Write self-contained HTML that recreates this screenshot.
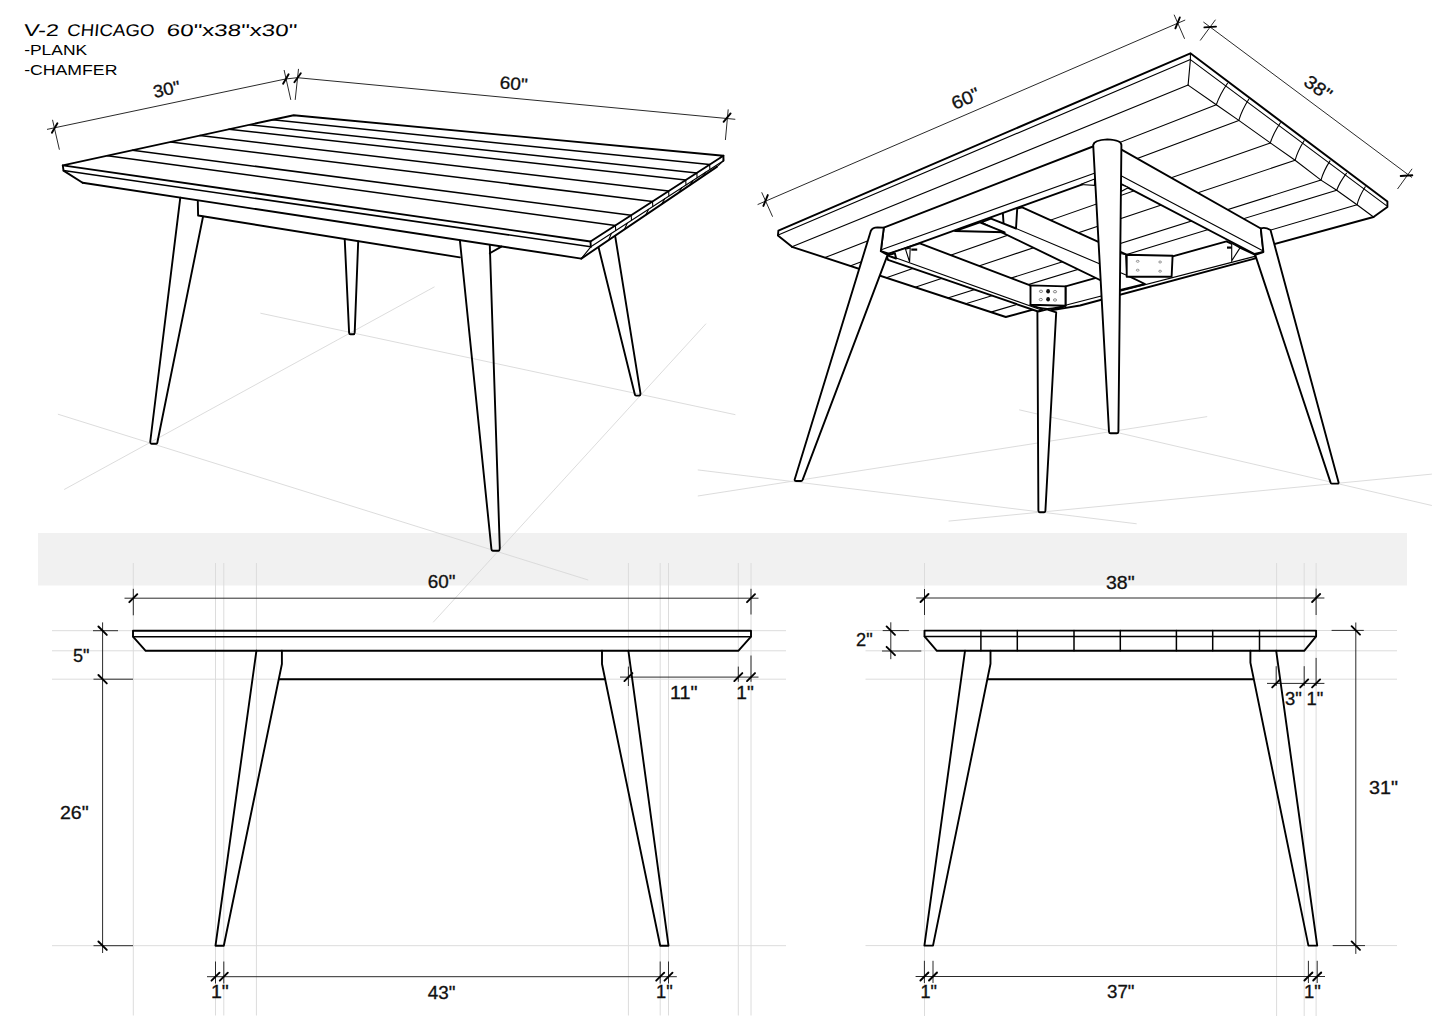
<!DOCTYPE html>
<html><head><meta charset="utf-8"><title>V-2 Chicago table</title>
<style>
html,body{margin:0;padding:0;background:#fff;}
body{width:1445px;height:1022px;overflow:hidden;}
svg{display:block;}
.k{stroke:#000;stroke-width:1.9;fill:none;stroke-linejoin:round;stroke-linecap:round;}
.k2{stroke:#000;stroke-width:1.5;fill:none;stroke-linecap:round;}
.k1{stroke:#000;stroke-width:1.1;fill:none;stroke-linecap:round;}
.dl{stroke:#2a2a2a;stroke-width:1;fill:none;}
.tk{stroke:#000;stroke-width:1.9;stroke-linecap:round;}
.cl{stroke:#dcdcdc;stroke-width:1;fill:none;}
.gl{stroke:#d8d8d8;stroke-width:0.9;fill:none;}
.bolt{stroke:#000;stroke-width:2.2;}
text{font-family:"Liberation Sans",sans-serif;fill:#111;stroke:#111;stroke-width:0.3;}
.ti{font-family:"Liberation Sans",sans-serif;fill:#000;stroke:none;}
</style></head>
<body>
<svg width="1445" height="1022" viewBox="0 0 1445 1022">
<rect width="1445" height="1022" fill="#fff"/>
<rect x="38" y="533" width="1369" height="52.5" fill="#f1f1f1"/>
<line class="gl" x1="57.9" y1="414.2" x2="588.2" y2="580"/>
<line class="gl" x1="64.2" y1="489.5" x2="434.5" y2="286.8"/>
<line class="gl" x1="260.4" y1="313.2" x2="735.4" y2="414.7"/>
<line class="gl" x1="433.2" y1="622.3" x2="706" y2="323.7"/>
<line class="gl" x1="697.8" y1="469.9" x2="1136.7" y2="523.8"/>
<line class="gl" x1="697.8" y1="496" x2="1207.2" y2="416.6"/>
<line class="gl" x1="1019.2" y1="409.8" x2="1431.9" y2="505.5"/>
<line class="gl" x1="948.6" y1="521.1" x2="1431.9" y2="474.1"/>
<line class="cl" x1="133.3" y1="563" x2="133.3" y2="1015.5"/>
<line class="cl" x1="215.5" y1="563" x2="215.5" y2="1015.5"/>
<line class="cl" x1="223.8" y1="563" x2="223.8" y2="1015.5"/>
<line class="cl" x1="256.4" y1="563" x2="256.4" y2="1015.5"/>
<line class="cl" x1="628.4" y1="563" x2="628.4" y2="1015.5"/>
<line class="cl" x1="660.2" y1="563" x2="660.2" y2="1015.5"/>
<line class="cl" x1="668.5" y1="563" x2="668.5" y2="1015.5"/>
<line class="cl" x1="738.3" y1="563" x2="738.3" y2="1015.5"/>
<line class="cl" x1="751" y1="563" x2="751" y2="1015.5"/>
<line class="cl" x1="52" y1="630.7" x2="786" y2="630.7"/>
<line class="cl" x1="52" y1="650.8" x2="786" y2="650.8"/>
<line class="cl" x1="52" y1="679.2" x2="786" y2="679.2"/>
<line class="cl" x1="52" y1="945.7" x2="786" y2="945.7"/>
<line class="cl" x1="924.5" y1="563" x2="924.5" y2="1016"/>
<line class="cl" x1="1276.6" y1="563" x2="1276.6" y2="1016"/>
<line class="cl" x1="1304.2" y1="563" x2="1304.2" y2="1016"/>
<line class="cl" x1="1316.1" y1="563" x2="1316.1" y2="1016"/>
<line class="cl" x1="865.5" y1="630.5" x2="1397" y2="630.5"/>
<line class="cl" x1="865.5" y1="650.8" x2="1397" y2="650.8"/>
<line class="cl" x1="865.5" y1="679.2" x2="1397" y2="679.2"/>
<line class="cl" x1="865.5" y1="945.6" x2="1397" y2="945.6"/>
<line class="dl" x1="124.5" y1="598.2" x2="758.5" y2="598.2"/>
<line class="dl" x1="133.3" y1="588.8" x2="133.3" y2="615.3"/>
<line class="dl" x1="751" y1="588.8" x2="751" y2="614.5"/>
<line class="tk" x1="129.3" y1="602.2" x2="137.3" y2="594.2"/>
<line class="tk" x1="747" y1="602.2" x2="755" y2="594.2"/>
<line class="dl" x1="102.6" y1="622.4" x2="102.6" y2="953"/>
<line class="dl" x1="93" y1="630.7" x2="118" y2="630.7"/>
<line class="dl" x1="93.5" y1="679.2" x2="133" y2="679.2"/>
<line class="dl" x1="93.5" y1="945.7" x2="133" y2="945.7"/>
<line class="tk" x1="98.4" y1="626.5" x2="106.8" y2="634.9"/>
<line class="tk" x1="98.4" y1="675" x2="106.8" y2="683.4"/>
<line class="tk" x1="98.4" y1="941.5" x2="106.8" y2="949.9"/>
<line class="dl" x1="620" y1="677.1" x2="758.5" y2="677.1"/>
<line class="dl" x1="628.4" y1="666.6" x2="628.4" y2="686"/>
<line class="dl" x1="738.3" y1="666.6" x2="738.3" y2="681.8"/>
<line class="dl" x1="751" y1="655.5" x2="751" y2="681.8"/>
<line class="tk" x1="624.4" y1="681.1" x2="632.4" y2="673.1"/>
<line class="tk" x1="734.3" y1="681.1" x2="742.3" y2="673.1"/>
<line class="tk" x1="747" y1="681.1" x2="755" y2="673.1"/>
<line class="dl" x1="207" y1="976.7" x2="676.8" y2="976.7"/>
<line class="dl" x1="215.5" y1="961.5" x2="215.5" y2="983.5"/>
<line class="tk" x1="211.5" y1="980.7" x2="219.5" y2="972.7"/>
<line class="dl" x1="223.8" y1="961.5" x2="223.8" y2="983.5"/>
<line class="tk" x1="219.8" y1="980.7" x2="227.8" y2="972.7"/>
<line class="dl" x1="660.2" y1="961.5" x2="660.2" y2="983.5"/>
<line class="tk" x1="656.2" y1="980.7" x2="664.2" y2="972.7"/>
<line class="dl" x1="668.5" y1="961.5" x2="668.5" y2="983.5"/>
<line class="tk" x1="664.5" y1="980.7" x2="672.5" y2="972.7"/>
<polygon class="k" points="133,630.7 751,630.7 751,636.6 738.3,650.8 145.7,650.8 133,636.6"/>
<line class="k2" x1="133" y1="636.8" x2="751" y2="636.8"/>
<polyline class="k" points="256.4,650.8 215.5,945.7 223.8,945.7 281.9,664 281.9,650.8"/>
<polyline class="k" points="628.4,650.8 668.5,945.7 660.2,945.7 602,664 602,650.8"/>
<line class="k" x1="279" y1="679.2" x2="605" y2="679.2"/>
<line class="dl" x1="916.2" y1="598" x2="1324.4" y2="598"/>
<line class="dl" x1="924.5" y1="589" x2="924.5" y2="615"/>
<line class="dl" x1="1316.1" y1="588.6" x2="1316.1" y2="615"/>
<line class="tk" x1="920.5" y1="602" x2="928.5" y2="594"/>
<line class="tk" x1="1312.1" y1="602" x2="1320.1" y2="594"/>
<line class="dl" x1="890.8" y1="622.3" x2="890.8" y2="659.2"/>
<line class="dl" x1="882.7" y1="630.6" x2="908.9" y2="630.6"/>
<line class="dl" x1="882" y1="651" x2="921.3" y2="651"/>
<line class="tk" x1="886.6" y1="626.4" x2="895" y2="634.8"/>
<line class="tk" x1="886.6" y1="646.8" x2="895" y2="655.2"/>
<line class="dl" x1="1355.8" y1="622.5" x2="1355.8" y2="953.9"/>
<line class="dl" x1="1331.6" y1="630.4" x2="1363.8" y2="630.4"/>
<line class="dl" x1="1332.7" y1="945.6" x2="1365" y2="945.6"/>
<line class="tk" x1="1351.6" y1="626.2" x2="1360" y2="634.6"/>
<line class="tk" x1="1351.6" y1="941.4" x2="1360" y2="949.8"/>
<line class="dl" x1="1267" y1="683.4" x2="1324.4" y2="683.4"/>
<line class="dl" x1="1276.2" y1="666.2" x2="1276.2" y2="686"/>
<line class="dl" x1="1304.2" y1="666.2" x2="1304.2" y2="686"/>
<line class="dl" x1="1316.1" y1="657.9" x2="1316.1" y2="686"/>
<line class="tk" x1="1272.2" y1="687.4" x2="1280.2" y2="679.4"/>
<line class="tk" x1="1300.2" y1="687.4" x2="1308.2" y2="679.4"/>
<line class="tk" x1="1312.1" y1="687.4" x2="1320.1" y2="679.4"/>
<line class="dl" x1="915.6" y1="976.5" x2="1325" y2="976.5"/>
<line class="dl" x1="924.4" y1="960.8" x2="924.4" y2="983"/>
<line class="tk" x1="920.4" y1="980.5" x2="928.4" y2="972.5"/>
<line class="dl" x1="933" y1="960.8" x2="933" y2="983"/>
<line class="tk" x1="929" y1="980.5" x2="937" y2="972.5"/>
<line class="dl" x1="1308.4" y1="960.8" x2="1308.4" y2="983"/>
<line class="tk" x1="1304.4" y1="980.5" x2="1312.4" y2="972.5"/>
<line class="dl" x1="1317.2" y1="960.8" x2="1317.2" y2="983"/>
<line class="tk" x1="1313.2" y1="980.5" x2="1321.2" y2="972.5"/>
<polygon class="k" points="924.5,630.6 1316.1,630.6 1316.1,636.4 1304.2,650.8 936.9,650.8 924.5,636.4"/>
<line class="k2" x1="924.5" y1="636.5" x2="1316.1" y2="636.5"/>
<line class="k2" x1="980.9" y1="630.6" x2="980.9" y2="650.8"/>
<line class="k2" x1="1017.3" y1="630.6" x2="1017.3" y2="650.8"/>
<line class="k2" x1="1074" y1="630.6" x2="1074" y2="650.8"/>
<line class="k2" x1="1120.3" y1="630.6" x2="1120.3" y2="650.8"/>
<line class="k2" x1="1176.4" y1="630.6" x2="1176.4" y2="650.8"/>
<line class="k2" x1="1212.7" y1="630.6" x2="1212.7" y2="650.8"/>
<line class="k2" x1="1259.5" y1="630.6" x2="1259.5" y2="650.8"/>
<polyline class="k" points="965,650.8 924.4,945.6 933,945.6 990.5,663.8 990.5,650.8"/>
<polyline class="k" points="1276.2,650.8 1317.2,945.6 1308.4,945.6 1250.4,662.6 1250.4,650.8"/>
<line class="k" x1="987.8" y1="679.2" x2="1252.8" y2="679.2"/>
<line class="dl" x1="47" y1="129.4" x2="285.5" y2="79"/>
<line class="dl" x1="285.5" y1="79" x2="297.4" y2="77.7"/>
<line class="dl" x1="297.4" y1="77.7" x2="735.3" y2="119.3"/>
<line class="dl" x1="52.5" y1="119.8" x2="59.4" y2="149.7"/>
<line class="dl" x1="284.1" y1="70" x2="290.8" y2="99.9"/>
<line class="dl" x1="298.5" y1="68.9" x2="295.2" y2="99.9"/>
<line class="dl" x1="728.2" y1="109.4" x2="725.4" y2="140"/>
<line class="tk" x1="51.9" y1="132.8" x2="57.4" y2="123.2"/>
<line class="tk" x1="283.1" y1="83.8" x2="288.6" y2="74.2"/>
<line class="tk" x1="294.4" y1="82.3" x2="300.8" y2="73.3"/>
<line class="tk" x1="723.6" y1="121.8" x2="730.6" y2="113.4"/>
<line class="k2" x1="272.5" y1="119.8" x2="709.6" y2="164.6"/>
<line class="k2" x1="249.7" y1="124.8" x2="696.8" y2="172.9"/>
<line class="k2" x1="228.9" y1="129.3" x2="685.7" y2="180"/>
<line class="k2" x1="199.9" y1="135.6" x2="668.6" y2="191.1"/>
<line class="k2" x1="170.8" y1="141.9" x2="652.5" y2="201.5"/>
<line class="k2" x1="132.4" y1="150.3" x2="631.2" y2="215.2"/>
<line class="k2" x1="107.5" y1="155.7" x2="615.4" y2="225.4"/>
<line class="k1" x1="709.6" y1="164.6" x2="709.9" y2="169.4"/>
<line class="k1" x1="696.8" y1="172.9" x2="697.1" y2="177.7"/>
<line class="k1" x1="685.7" y1="180" x2="686" y2="184.8"/>
<line class="k1" x1="668.6" y1="191.1" x2="668.9" y2="195.9"/>
<line class="k1" x1="652.5" y1="201.5" x2="652.8" y2="206.3"/>
<line class="k1" x1="631.2" y1="215.2" x2="631.5" y2="220"/>
<line class="k1" x1="615.4" y1="225.4" x2="615.7" y2="230.2"/>
<line class="k1" x1="723.4" y1="155.7" x2="723.7" y2="160.5"/>
<line class="k1" x1="590.8" y1="246.8" x2="723.4" y2="160.8"/>
<line class="k" x1="581.3" y1="258.6" x2="716.8" y2="166.9"/>
<line class="k1" x1="716.8" y1="166.9" x2="723.2" y2="161.2"/>
<line class="k1" x1="705.6" y1="172.3" x2="702.8" y2="176.4"/>
<line class="k1" x1="692.8" y1="180.6" x2="690" y2="185"/>
<line class="k1" x1="681.7" y1="187.8" x2="678.9" y2="192.5"/>
<line class="k1" x1="664.6" y1="198.9" x2="661.8" y2="204.1"/>
<line class="k1" x1="648.5" y1="209.4" x2="645.7" y2="215"/>
<line class="k1" x1="627.2" y1="223.2" x2="624.4" y2="229.4"/>
<line class="k1" x1="611.4" y1="233.4" x2="608.6" y2="240.1"/>
<polyline class="k" points="590.5,241.5 62.8,165.4 293.7,115.2 723.4,155.7 590.5,241.5"/>
<polyline class="k" points="62.8,165.4 63.5,170.6 82.6,182.7"/>
<line class="k" x1="590.5" y1="241.5" x2="590.8" y2="246.8"/>
<line class="k" x1="723.4" y1="155.7" x2="723.4" y2="160.8"/>
<line class="k2" x1="63.5" y1="170.6" x2="590.8" y2="246.8"/>
<line class="k" x1="82.6" y1="182.7" x2="581.3" y2="258.6"/>
<line class="k1" x1="590.8" y1="246.8" x2="581.3" y2="258.6"/>
<polyline class="k" points="197.8,201.3 198.1,215.5 459.9,257.4"/>
<line class="k" x1="489.8" y1="253.3" x2="501.4" y2="246.6"/>
<path class="k" d="M180.3,197.6 L150.2,442 Q150.4,443.7 151.5,443.7 L156.3,443.7 Q157.4,443.7 157.6,441.2 L203,216.7"/>
<path class="k" d="M344.7,239 L349.1,332.6 Q349.3,334.3 350.4,334.3 L353.4,334.3 Q354.5,334.3 354.7,332.4 L358.2,241.4"/>
<path class="k" d="M459.9,240.4 L491.4,548.8 Q491.6,550.8 492.7,550.8 L498.5,550.8 Q499.6,550.8 499.8,548 L489.8,245.2"/>
<path class="k" d="M598.6,247.6 L634.8,394.2 Q635,395.6 636.1,395.6 L639.2,395.6 Q640.3,395.6 640.5,393.6 L615.3,236.8"/>
<text class="ti" x="23.6" y="36" font-size="17" textLength="35" lengthAdjust="spacingAndGlyphs" transform="translate(23.6 36) skewX(-5) translate(-23.6 -36)">V-2</text>
<text class="ti" x="66.8" y="36" font-size="17" textLength="87.2" lengthAdjust="spacingAndGlyphs" transform="translate(66.8 36) skewX(-5) translate(-66.8 -36)">CHICAGO</text>
<text class="ti" x="166.2" y="36" font-size="17" textLength="130.5" lengthAdjust="spacingAndGlyphs" transform="translate(166.2 36) skewX(-5) translate(-166.2 -36)">60"x38"x30"</text>
<text class="ti" x="24.2" y="55.2" font-size="14.2" textLength="63" lengthAdjust="spacingAndGlyphs">-PLANK</text>
<text class="ti" x="24.2" y="74.6" font-size="14.8" textLength="93.2" lengthAdjust="spacingAndGlyphs">-CHAMFER</text>
<text class="t" x="167.8" y="95.1" font-size="17.5" textLength="27.4" lengthAdjust="spacingAndGlyphs" transform="rotate(-11.9 167.8 95.1)" text-anchor="middle">30"</text>
<text class="t" x="513.2" y="89.6" font-size="17.5" textLength="28" lengthAdjust="spacingAndGlyphs" transform="rotate(5.4 513.2 89.6)" text-anchor="middle">60"</text>
<text class="t" x="427.7" y="588" font-size="17.5" textLength="27.7" lengthAdjust="spacingAndGlyphs">60"</text>
<text class="t" x="73" y="661.6" font-size="17.5" textLength="16.5" lengthAdjust="spacingAndGlyphs">5"</text>
<text class="t" x="60" y="819" font-size="17.5" textLength="28.7" lengthAdjust="spacingAndGlyphs">26"</text>
<text class="t" x="670" y="698.8" font-size="17.5" textLength="27.6" lengthAdjust="spacingAndGlyphs">11"</text>
<text class="t" x="736.3" y="698.8" font-size="17.5" textLength="17.5" lengthAdjust="spacingAndGlyphs">1"</text>
<text class="t" x="211" y="997.8" font-size="17.5" textLength="17.8" lengthAdjust="spacingAndGlyphs">1"</text>
<text class="t" x="427.7" y="999" font-size="17.5" textLength="27.7" lengthAdjust="spacingAndGlyphs">43"</text>
<text class="t" x="656" y="998" font-size="17.5" textLength="16.7" lengthAdjust="spacingAndGlyphs">1"</text>
<text class="t" x="1106" y="588.8" font-size="17.5" textLength="28.6" lengthAdjust="spacingAndGlyphs">38"</text>
<text class="t" x="856" y="646.2" font-size="17.5" textLength="16.6" lengthAdjust="spacingAndGlyphs">2"</text>
<text class="t" x="1285" y="704.6" font-size="17.5" textLength="16.8" lengthAdjust="spacingAndGlyphs">3"</text>
<text class="t" x="1306.5" y="704.6" font-size="17.5" textLength="16.8" lengthAdjust="spacingAndGlyphs">1"</text>
<text class="t" x="1369" y="794.2" font-size="17.5" textLength="29" lengthAdjust="spacingAndGlyphs">31"</text>
<text class="t" x="920.5" y="998.4" font-size="17.5" textLength="16.5" lengthAdjust="spacingAndGlyphs">1"</text>
<text class="t" x="1107" y="998.4" font-size="17.5" textLength="27.5" lengthAdjust="spacingAndGlyphs">37"</text>
<text class="t" x="1304" y="998" font-size="17.5" textLength="16.8" lengthAdjust="spacingAndGlyphs">1"</text>
<line class="dl" x1="757.6" y1="204.6" x2="1185.2" y2="20"/>
<line class="dl" x1="761.7" y1="192.3" x2="772.6" y2="216.7"/>
<line class="dl" x1="1174.1" y1="14.7" x2="1184.6" y2="38.8"/>
<line class="tk" x1="763.4" y1="205.9" x2="767.8" y2="195.1"/>
<line class="tk" x1="1175.4" y1="28.3" x2="1179.8" y2="17.5"/>
<line class="dl" x1="1203.4" y1="22" x2="1412" y2="177.5"/>
<line class="dl" x1="1215.5" y1="19.7" x2="1200.2" y2="40.5"/>
<line class="dl" x1="1412.1" y1="168.8" x2="1397.5" y2="189"/>
<line class="tk" x1="1204.4" y1="27.4" x2="1216" y2="26.6"/>
<line class="tk" x1="1400.7" y1="176" x2="1412.3" y2="175.2"/>
<text class="t" x="968" y="104.3" font-size="18.3" textLength="29" lengthAdjust="spacingAndGlyphs" transform="rotate(-23.4 968 104.3)" text-anchor="middle">60"</text>
<text class="t" x="1314.3" y="93" font-size="18.5" textLength="29.5" lengthAdjust="spacingAndGlyphs" transform="rotate(36.7 1314.3 93)" text-anchor="middle">38"</text>
<line class="k1" x1="1216.3" y1="104.7" x2="825" y2="257.6"/>
<line class="k1" x1="1238.8" y1="120.4" x2="850.1" y2="265.9"/>
<line class="k1" x1="1270.3" y1="142.9" x2="886.4" y2="277.8"/>
<line class="k1" x1="1295.1" y1="160.3" x2="915.2" y2="287.3"/>
<line class="k1" x1="1321" y1="180.1" x2="947.8" y2="298"/>
<line class="k1" x1="1336.7" y1="190.2" x2="965.7" y2="303.8"/>
<line class="k1" x1="1357" y1="204.8" x2="990.9" y2="312.1"/>
<line class="k1" x1="779.4" y1="234.5" x2="1190.4" y2="59.6"/>
<line class="k1" x1="792" y1="246.8" x2="1188.1" y2="85.1"/>
<line class="k1" x1="1190.4" y1="59.6" x2="1386.4" y2="205.6"/>
<polyline class="k1" points="1188.1,85.1 1216.3,104.7 1238.8,120.4 1270.3,142.9 1295.1,160.3 1321,180.1 1336.7,190.2 1357,204.8 1373.5,217"/>
<line class="k1" x1="1190.4" y1="53.3" x2="1190.4" y2="59.6"/>
<line class="k1" x1="1190.4" y1="59.6" x2="1188.1" y2="85.1"/>
<path class="k1" d="M1227.5,83.3 Q1219.9,94.5 1216.3,104.7"/>
<path class="k1" d="M1248.9,99 Q1241.8,110.2 1238.8,120.4"/>
<path class="k1" d="M1280.4,122.7 Q1273.3,133.3 1270.3,142.9"/>
<path class="k1" d="M1304.1,140.7 Q1297.6,151 1295.1,160.3"/>
<path class="k1" d="M1330,160.9 Q1323.5,171 1321,180.1"/>
<path class="k1" d="M1346.4,173.3 Q1339.6,182.2 1336.7,190.2"/>
<path class="k1" d="M1365.3,186.8 Q1359.2,196.3 1357,204.8"/>
<polyline class="k" points="792,246.8 777.9,235.5 778.4,230.6 1190.4,53.3 1387.4,201.6 1387.4,207.1 1373.5,217"/>
<polyline class="k" points="792,246.8 1005.8,317 1373.5,217"/>
<polygon class="k" points="883.8,227.6 1102,143 1102,177.4 889.6,253.8 880.8,251.1" style="fill:#fff"/>
<line class="k1" x1="882" y1="249.5" x2="1102" y2="170.5"/>
<polygon class="k" points="1114,145.3 1260.8,228.5 1263.4,252 1254.6,254 1114,180.4" style="fill:#fff"/>
<line class="k1" x1="1114" y1="172.1" x2="1262.8" y2="250.8"/>
<polygon class="k" points="919.8,243.4 1030.2,285.3 1042.2,310.2 1038.1,311.5 888,259.9 886.8,256.1 888.7,253.6" style="fill:#fff"/>
<line class="k1" x1="896.2" y1="258" x2="1042.2" y2="310.2"/>
<polygon class="k" points="1065.6,286.3 1226.5,241.3 1255.4,255 1255.4,258.4 1080,305.5 1049.4,310.6 1065.5,305.7" style="fill:#fff"/>
<line class="k1" x1="1065.5" y1="305.2" x2="1254.8" y2="256.4"/>
<polygon class="k" points="1017.2,208.6 1022.2,207.4 1126,254.4 1127.2,275.4 1145,284 1120.6,290 981,222.3 991,218.6 1016,228.5" style="fill:#fff"/>
<line class="k1" x1="1016" y1="228.5" x2="1127.2" y2="275.4"/>
<line class="k" x1="1002.9" y1="213.6" x2="1003.5" y2="222.9"/>
<polygon class="k" points="955,231 979.8,222.3 1004.7,232.3" style="fill:#fff"/>
<polygon class="k" points="887.9,255.5 894.9,253.2 896.1,258.5" style="fill:#fff"/>
<polygon class="k1" points="905.5,249.1 910.2,247.9 909.6,262" style="fill:#fff"/>
<line class="bolt" x1="911.3" y1="249.6" x2="917.2" y2="249.6"/>
<polygon class="k1" points="1231.7,243.2 1240,247.9 1231.7,260.8" style="fill:#fff"/>
<line class="bolt" x1="1227" y1="247.6" x2="1231.7" y2="247.6"/>
<polygon class="k1" points="1080.5,184.5 1094.5,179 1094.5,185.3" style="fill:#fff"/>
<polygon class="k1" points="1121,184.5 1128.5,187.6 1121,191.5" style="fill:#fff"/>
<path class="k" d="M1030.5,304.7 Q1038,308.6 1047.4,308.9 Q1058,308.2 1065.5,305.7" style="fill:#fff"/>
<polygon class="k" points="1030.5,285.4 1065.5,286.4 1065.5,305.7 1030.5,304.7" style="fill:#fff"/>
<ellipse cx="1041" cy="291.3" rx="1.6" ry="1.2" fill="none" stroke="#555" stroke-width="0.7"/>
<ellipse cx="1055" cy="291.7" rx="1.6" ry="1.2" fill="none" stroke="#555" stroke-width="0.7"/>
<ellipse cx="1040.8" cy="299.6" rx="1.6" ry="1.2" fill="none" stroke="#555" stroke-width="0.7"/>
<ellipse cx="1055" cy="300" rx="1.6" ry="1.2" fill="none" stroke="#555" stroke-width="0.7"/>
<ellipse cx="1048.1" cy="291.2" rx="1.9" ry="2.3" fill="#111"/>
<ellipse cx="1048.1" cy="299.2" rx="1.9" ry="2.3" fill="#111"/>
<polygon class="k" points="1126.7,254.7 1172.6,255.7 1171.6,276.7 1126.7,276.7" style="fill:#fff"/>
<line class="k1" x1="1121.4" y1="253.8" x2="1126.7" y2="254.7"/>
<ellipse cx="1137.7" cy="261.3" rx="1.4" ry="1" fill="none" stroke="#555" stroke-width="0.6"/>
<ellipse cx="1160.1" cy="262" rx="1.4" ry="1" fill="none" stroke="#555" stroke-width="0.6"/>
<ellipse cx="1137.7" cy="270.2" rx="1.4" ry="1" fill="none" stroke="#555" stroke-width="0.6"/>
<ellipse cx="1160.1" cy="271.2" rx="1.4" ry="1" fill="none" stroke="#555" stroke-width="0.6"/>
<path class="k" d="M1093.2,145 Q1094,140 1107.3,139.4 Q1121.4,140 1121.4,145 L1118.4,431.6 Q1118.2,433.3 1116.8,433.3 L1110.6,433.3 Q1109.2,433.3 1109,431.6 Z" style="fill:#fff"/>
<path class="k" d="M870.8,231 Q872.5,227.4 877.5,227.4 L883.8,227.6 L880.8,251.1 L887.6,254.9 L802.7,479.6 Q802.4,481 801.2,481 L796,481 Q794.8,481 794.6,479.8 Z" style="fill:#fff"/>
<path class="k" d="M1037.4,311.8 L1038.4,510.8 Q1038.5,512.2 1039.6,512.2 L1044.2,512.2 Q1045.3,512.2 1045.4,510.8 L1056.2,312.3 L1049.2,310.1 L1047.6,309.3 L1046.2,309.7 Z" style="fill:#fff"/>
<path class="k" d="M1260.8,228.5 Q1265,226.8 1270.5,230 L1338.6,482.4 Q1338.7,483.6 1337.5,483.6 L1331.8,483.6 Q1330.8,483.6 1330.6,482.6 L1255.2,254.9 L1263.4,252 Z" style="fill:#fff"/>
</svg>
</body></html>
